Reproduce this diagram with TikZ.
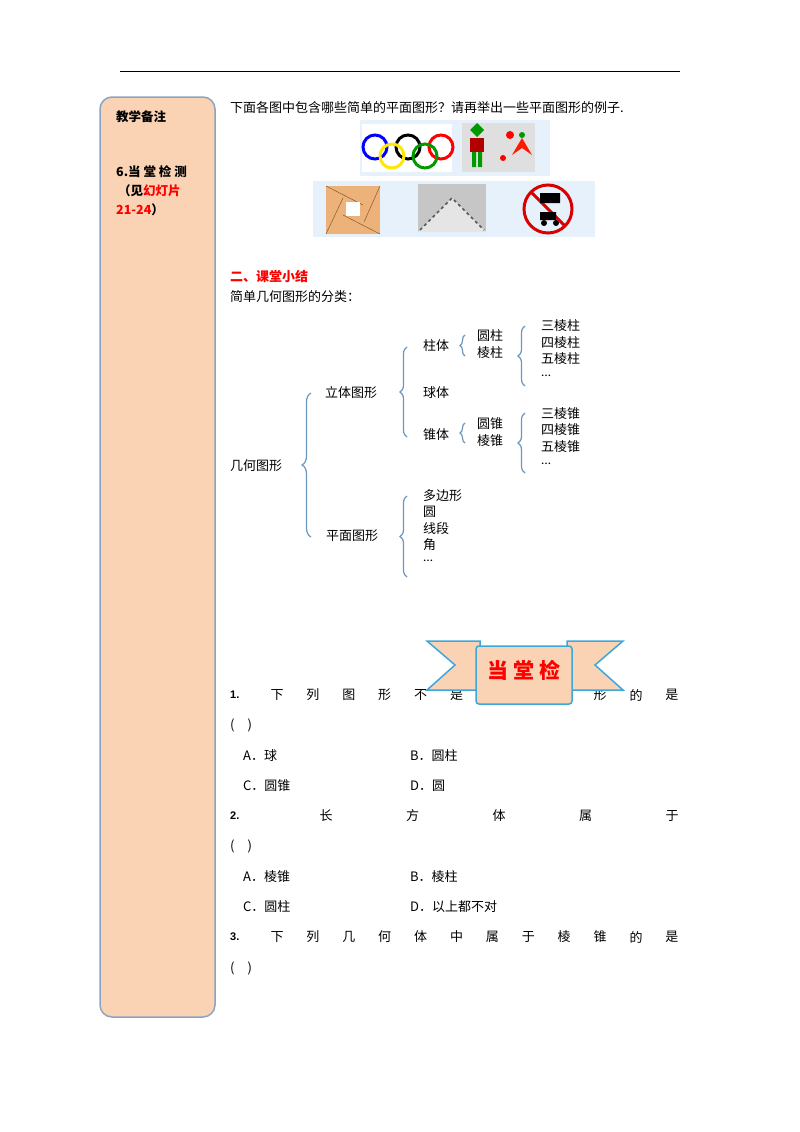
\documentclass[tikz,border=0pt]{standalone}
\usepackage{fontspec}
\setmainfont{Liberation Serif}
\setsansfont{Liberation Sans}
\newfontfamily\cjk{Noto Sans CJK SC}
\usetikzlibrary{decorations.pathreplacing}
\definecolor{peach}{HTML}{FAD3B4}
\definecolor{bord}{HTML}{8EA3C2}
\definecolor{brc}{HTML}{6B96BF}
\definecolor{rib}{HTML}{3BA7DB}
\definecolor{lb}{HTML}{E6F1FB}
\begin{document}
\begin{tikzpicture}[x=1pt,y=-1pt,
 t/.style={anchor=west,inner sep=0,font=\cjk\fontsize{13}{15}\selectfont},
 c/.style={inner sep=0,font=\cjk\fontsize{13}{15}\selectfont},
 sb/.style={anchor=west,inner sep=0,font=\cjk\bfseries\fontsize{12.5}{15}\selectfont},
 br/.style={draw=brc,line width=1.2pt,decorate,decoration={brace,amplitude=7pt}},
 sbr/.style={draw=brc,line width=1.2pt,decorate,decoration={brace,amplitude=5pt}}]
\useasboundingbox (0,0) rectangle (800,1132);
\draw[line width=1pt] (120,72) -- (680,72);
\draw[draw=bord,fill=peach,line width=1.5pt,rounded corners=12pt] (100,97) rectangle (215,1017);
\node[sb] (bz) at (116,117) {教学备注};
\node[sb] (l1) at (116,172) {6.当 堂 检 测};
\node[sb] (l2) at (118,191) {（见\textcolor{red}{幻灯片}};
\node[sb] (l3) at (116,210) {\textcolor{red}{21-24}）};
\node[t] (q0) at (230,108) {下面各图中包含哪些简单的平面图形？请再举出一些平面图形的例子.};
% images
\fill[lb] (360,120) rectangle (550,176);
\fill[white] (362,124) rectangle (452,172);
\foreach \x/\y/\col in {375/147/blue,408/147/black,441/147/red,392/156/yellow!90!orange,425/156/green!60!black}
  \draw[\col,line width=3pt] (\x,\y) circle (12);
\fill[gray!25] (462,123) rectangle (535,172);
\fill[green!60!black] (470,130) -- (477,123) -- (484,130) -- (477,137) -- cycle;
\fill[red!70!black] (470,138) rectangle (484,152);
\fill[green!60!black] (472,152) rectangle (476,167) (478,152) rectangle (482,167);
\fill[red] (510,135) circle (4); \fill[red] (503,158) circle (3);
\fill[green!60!black] (522,135) circle (3);
\fill[red!80!orange] (522,138) -- (512,155) -- (522,148) -- (532,155) -- cycle;
\fill[lb] (313,181) rectangle (595,237);
\fill[orange!50!brown!60] (326,186) rectangle (380,234);
\draw[brown!70!black,line width=.5pt] (326,186) -- (363,205) (380,186) -- (364,222) (380,234) -- (343,215) (326,234) -- (343,198);
\fill[white] (346,202) rectangle (360,216);
\fill[gray!45] (418,184) rectangle (486,232);
\fill[gray!20] (418,232) -- (452,198) -- (486,232) -- cycle;
\draw[gray!70!black,dashed,line width=1.5pt] (420,230) -- (452,198) -- (484,230);
\draw[red!85!black,line width=3pt] (548,209) circle (24);
\draw[red!85!black,line width=3pt] (531,192) -- (565,226);
\fill[black] (540,193) rectangle (560,203) (540,212) rectangle (556,220);
\fill[black] (544,223) circle (3) (556,223) circle (3);
% summary
\node[t,text=red,font=\cjk\bfseries\fontsize{13}{15}\selectfont] (h2) at (230,277) {二、课堂小结};
\node[t] (h3) at (230,297) {简单几何图形的分类：};
\node[t] (jh) at (230,466) {几何图形};
\node[t] (lt) at (325,393) {立体图形};
\node[t] (pm) at (326,536) {平面图形};
\node[t] (zt) at (423,346) {柱体};
\node[t] (qt) at (423,393) {球体};
\node[t] (zh) at (423,435) {锥体};
\node[t] (yz) at (477,336) {圆柱};
\node[t] (lz) at (477,353) {棱柱};
\node[t] (yzh) at (477,424) {圆锥};
\node[t] (lzh) at (477,441) {棱锥};
\foreach \s/\y in {三棱柱/326,四棱柱/343,五棱柱/359} \node[t] at (541,\y) {\s};
\node[t,font=\bfseries] (d1) at (541,376) {…};
\foreach \s/\y in {三棱锥/414,四棱锥/430,五棱锥/447} \node[t] at (541,\y) {\s};
\node[t,font=\bfseries] (d2) at (541,464) {…};
\foreach \s/\y in {多边形/496,圆/512,线段/529,角/545} \node[t] at (423,\y) {\s};
\node[t,font=\bfseries] (d3) at (423,561) {…};
\draw[br,decoration={amplitude=9pt}] (311,537) -- (311,393);
\draw[br] (407,437) -- (407,347);
\draw[sbr] (465,356) -- (465,335);
\draw[sbr] (465,443) -- (465,423);
\draw[br] (525,386) -- (525,326);
\draw[br] (525,473) -- (525,413);
\draw[br] (407,577) -- (407,496);
% questions
\node[t,font=\sffamily\bfseries\fontsize{11}{13}\selectfont] (n1) at (230,695) {1.};
\foreach \s [count=\i] in {下,列,图,形,不,是} \node[c] at ({277+(\i-1)*35.9},695) {\s};
\foreach \s [count=\i] in {形,的,是} \node[c] at ({277+(\i+8)*35.9},695) {\s};
\node[t] (p1) at (230,725) {(\quad)};
\node[t] at (243,756) {A．球}; \node[t] at (410,756) {B．圆柱};
\node[t] at (243,786) {C．圆锥}; \node[t] at (410,786) {D．圆};
\node[t,font=\sffamily\bfseries\fontsize{11}{13}\selectfont] (n2) at (230,816) {2.};
\foreach \s [count=\i] in {长,方,体,属,于} \node[c] at ({326+(\i-1)*86.5},816) {\s};
\node[t] (p2) at (230,846) {(\quad)};
\node[t] at (243,877) {A．棱锥}; \node[t] at (410,877) {B．棱柱};
\node[t] at (243,907) {C．圆柱}; \node[t] at (410,907) {D．以上都不对};
\node[t,font=\sffamily\bfseries\fontsize{11}{13}\selectfont] (n3) at (230,937) {3.};
\foreach \s [count=\i] in {下,列,几,何,体,中,属,于,棱,锥,的,是} \node[c] at ({277+(\i-1)*35.9},937) {\s};
\node[t] (p3) at (230,968) {(\quad)};
% banner
\filldraw[fill=peach,draw=rib,line width=1.5pt] (427,641) -- (480,641) -- (480,690) -- (427,690) -- (455,665) -- cycle;
\filldraw[fill=peach,draw=rib,line width=1.5pt] (623,641) -- (567,641) -- (567,690) -- (623,690) -- (595,665) -- cycle;
\filldraw[fill=peach,draw=rib,line width=1.5pt,rounded corners=3pt] (476,646) rectangle (572,704);
\node[c,text=red,font=\cjk\bfseries\fontsize{21}{24}\selectfont] (bt) at (524,670) {当 堂 检};
\end{tikzpicture}
\end{document}
